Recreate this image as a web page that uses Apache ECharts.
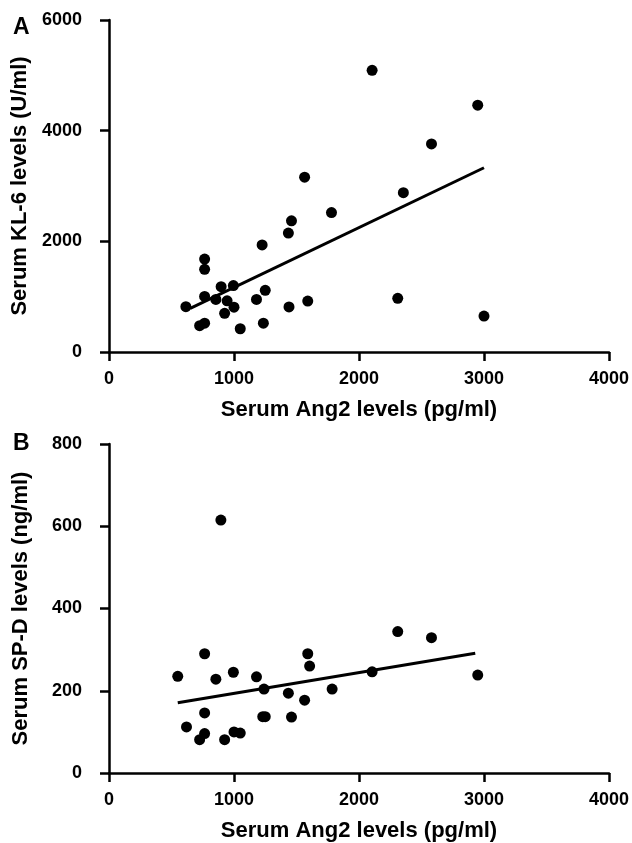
<!DOCTYPE html>
<html>
<head>
<meta charset="utf-8">
<style>
  html, body { margin: 0; padding: 0; background: #fff; }
  #main { width: 632px; height: 843px; }
</style>
<script src="https://cdn.jsdelivr.net/npm/echarts@6/dist/echarts.min.js"></script>
</head>
<body>
<div id="main"></div>
<script>
// panel A: Ang2 vs KL-6
var ang2A = [2105, 1565, 1780, 1460, 1435, 1225, 765, 765, 897, 995, 765, 855, 945, 615, 1000,
  925, 1250, 1180, 1440, 1590, 725, 765, 1050, 1235, 2950, 2580, 2355, 2310, 3000];
var kl6 = [5090, 3160, 2520, 2370, 2150, 1935, 1680, 1495, 1180, 1200, 1005, 950, 925, 820, 810,
  700, 1115, 950, 815, 920, 475, 520, 420, 520, 4460, 3760, 2880, 970, 650];
var fitAx = [650, 3000];
var fitAy = [790, 3330];

// panel B: Ang2 vs SP-D
var ang2B = [895, 765, 550, 855, 995, 1180, 1240, 1435, 1565, 1590, 1605, 1785, 2105, 765, 620,
  765, 725, 925, 1000, 1050, 1230, 1250, 1460, 2310, 2580, 2950];
var spd = [615, 290, 235, 228, 245, 234, 204, 194, 177, 290, 260, 204, 246, 146, 112,
  96, 81, 81, 100, 97, 137, 137, 136, 344, 329, 238];
var fitBx = [550, 2930];
var fitBy = [171, 291];

var xTicks = [0, 1000, 2000, 3000, 4000];
var yTicksA = [0, 2000, 4000, 6000];
var yTicksB = [0, 200, 400, 600, 800];

function pairs(xs, ys) {
  return xs.map(function (x, i) { return [x, ys[i]]; });
}

var font = 'Liberation Sans, Arial, sans-serif';
var axisLine = { show: true, lineStyle: { color: '#000', width: 2.5 } };
var axisTick = { show: true, inside: false, length: 9, lineStyle: { color: '#000', width: 2.5 } };
var tickLabel = {
  color: '#000', fontSize: 18, fontWeight: 'bold', fontFamily: font,
  formatter: function (v) { return String(v); }
};
var nameStyle = { color: '#000', fontSize: 22, fontWeight: 'bold', fontFamily: font };

function xAxis(idx) {
  return {
    type: 'value', gridIndex: idx,
    min: xTicks[0], max: xTicks[xTicks.length - 1], interval: xTicks[1] - xTicks[0],
    name: 'Serum Ang2 levels (pg/ml)', nameLocation: 'middle', nameGap: 47,
    nameTextStyle: nameStyle,
    axisLine: axisLine, axisTick: axisTick,
    axisLabel: Object.assign({ margin: 18 }, tickLabel),
    splitLine: { show: false }
  };
}

function yAxis(idx, ticks, name) {
  return {
    type: 'value', gridIndex: idx,
    min: ticks[0], max: ticks[ticks.length - 1], interval: ticks[1] - ticks[0],
    name: name, nameLocation: 'middle', nameGap: 77,
    nameTextStyle: nameStyle,
    axisLine: axisLine, axisTick: axisTick,
    axisLabel: Object.assign({ margin: 27 }, tickLabel),
    splitLine: { show: false }
  };
}

var myChart = echarts.init(document.getElementById('main'));
var option = {
  backgroundColor: '#fff',
  animation: false,
  title: [
    { text: 'A', left: 13, top: 16, textStyle: { color: '#000', fontSize: 23, fontWeight: 'bold', fontFamily: font }, padding: 0 },
    { text: 'B', left: 13, top: 432, textStyle: { color: '#000', fontSize: 23, fontWeight: 'bold', fontFamily: font }, padding: 0 }
  ],
  grid: [
    { left: 109, width: 500, top: 20, height: 332 },
    { left: 109, width: 500, top: 444, height: 334 }
  ],
  xAxis: [xAxis(0), xAxis(1)],
  yAxis: [
    yAxis(0, yTicksA, 'Serum KL-6 levels (U/ml)'),
    yAxis(1, yTicksB, 'Serum SP-D levels (ng/ml)')
  ],
  series: [
    {
      type: 'scatter', xAxisIndex: 0, yAxisIndex: 0,
      symbolSize: 11, itemStyle: { color: '#000', opacity: 1 },
      data: pairs(ang2A, kl6)
    },
    {
      type: 'line', xAxisIndex: 0, yAxisIndex: 0,
      symbol: 'none', lineStyle: { color: '#000', width: 3 },
      data: pairs(fitAx, fitAy)
    },
    {
      type: 'scatter', xAxisIndex: 1, yAxisIndex: 1,
      symbolSize: 11, itemStyle: { color: '#000', opacity: 1 },
      data: pairs(ang2B, spd)
    },
    {
      type: 'line', xAxisIndex: 1, yAxisIndex: 1,
      symbol: 'none', lineStyle: { color: '#000', width: 3 },
      data: pairs(fitBx, fitBy)
    }
  ]
};

option && myChart.setOption(option);
</script>
</body>
</html>
